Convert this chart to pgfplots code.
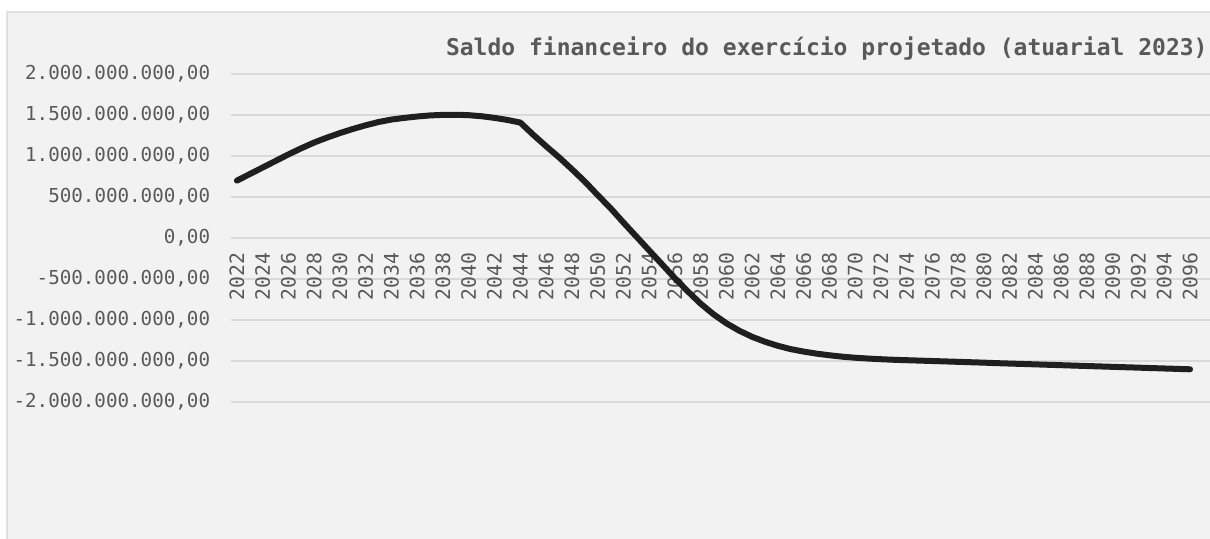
\documentclass[border=0pt]{standalone}
\usepackage{fontspec}
\setmainfont{DejaVu Sans Mono}
\usepackage{pgfplots}
\usepackage{pgfplotstable}
\pgfplotsset{compat=1.18}
\definecolor{bg}{HTML}{F2F2F2}
\definecolor{gridc}{HTML}{D9D9D9}
\definecolor{border}{HTML}{E0E0E0}
\definecolor{txt}{HTML}{595959}
\definecolor{ln}{HTML}{1F1F1F}
\pgfplotstableread{
year val
2022 700
2023 780
2024 860
2025 940
2026 1020
2027 1095
2028 1165
2029 1225
2030 1280
2031 1330
2032 1375
2033 1415
2034 1445
2035 1465
2036 1482
2037 1495
2038 1502
2039 1503
2040 1498
2041 1485
2042 1465
2043 1440
2044 1408
2045 1260
2046 1120
2047 985
2048 840
2049 690
2050 525
2051 365
2052 190
2053 20
2054 -150
2055 -320
2056 -490
2057 -650
2058 -800
2059 -930
2060 -1040
2061 -1130
2062 -1205
2063 -1265
2064 -1315
2065 -1355
2066 -1385
2067 -1410
2068 -1430
2069 -1447
2070 -1460
2071 -1470
2072 -1478
2073 -1485
2074 -1490
2075 -1495
2076 -1500
2077 -1505
2078 -1510
2079 -1515
2080 -1520
2081 -1526
2082 -1531
2083 -1536
2084 -1541
2085 -1546
2086 -1551
2087 -1556
2088 -1561
2089 -1566
2090 -1571
2091 -1576
2092 -1581
2093 -1586
2094 -1591
2095 -1596
2096 -1601
}\datatable
\begin{document}
\begin{tikzpicture}
\useasboundingbox (0pt,0pt) rectangle (605pt,-269pt);
\fill[white] (0pt,0pt) rectangle (605pt,-269pt);
\filldraw[fill=bg, draw=border, line width=0.75pt] (3.5pt,-6pt) rectangle (612pt,-275pt);
\node[anchor=base east, inner sep=0pt, text=txt, font=\bfseries\fontsize{11.5}{13}\selectfont] at (604pt,-27.5pt) {Saldo financeiro do exercício projetado (atuarial 2023)};
\begin{axis}[
  at={(115.25pt,-201pt)}, anchor=south west,
  scale only axis, width=489.75pt, height=164pt,
  xmin=2021.5, xmax=2097.55, ymin=-2000, ymax=2000,
  axis x line*=middle, axis y line*=left,
  axis line style={draw=none},
  major tick length=0pt,
  ymajorgrids, grid style={gridc, line width=0.75pt},
  ytick={-2000,-1500,-1000,-500,0,500,1000,1500,2000},
  yticklabels={{-2.000.000.000,00},{-1.500.000.000,00},{-1.000.000.000,00},{-500.000.000,00},{0,00},{500.000.000,00},{1.000.000.000,00},{1.500.000.000,00},{2.000.000.000,00}},
  yticklabel style={anchor=east, inner sep=0pt, xshift=-10pt, text=txt, font=\fontsize{9.6}{10}\selectfont},
  xtick={2022,2024,...,2096},
  xticklabels={2022,2024,2026,2028,2030,2032,2034,2036,2038,2040,2042,2044,2046,2048,2050,2052,2054,2056,2058,2060,2062,2064,2066,2068,2070,2072,2074,2076,2078,2080,2082,2084,2086,2088,2090,2092,2094,2096},
  xticklabel style={rotate=90, anchor=east, inner ysep=0pt, inner xsep=7pt, text=txt, font=\fontsize{9.9}{10}\selectfont},
  clip=false,
]
\addplot[ln, line width=3pt, line cap=round, line join=round] table[x=year, y=val] {\datatable};
\end{axis}
\end{tikzpicture}
\end{document}
